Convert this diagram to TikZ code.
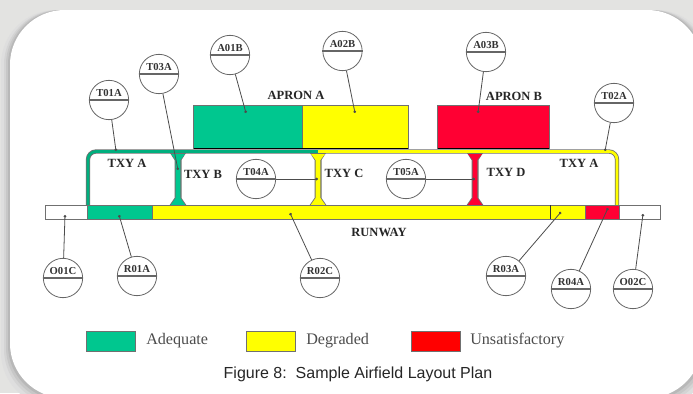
\documentclass[tikz,border=0pt]{standalone}
\usepackage{fontspec}
\setmainfont{Liberation Serif}
\newfontfamily\capfont{Liberation Sans}
\usetikzlibrary{arrows.meta}
\definecolor{adq}{HTML}{00C78F}
\definecolor{deg}{HTML}{FFFF00}
\definecolor{uns}{HTML}{FF0033}
\definecolor{unsleg}{HTML}{FF0000}
\definecolor{edge}{HTML}{707070}
\definecolor{page}{HTML}{E3E3E1}
\tikzset{
  area/.style={draw=edge,line width=.7pt},
  callout/.style={circle,draw=black!60,line width=.6pt,minimum size=29.5pt,inner sep=0pt,fill=white,font=\bfseries\fontsize{8}{9}\selectfont,text=black!80},
  divider/.style={draw=black!60,line width=.8pt},
  leader/.style={draw=black!70,line width=.6pt,{Circle[length=2pt]}-},
  lab/.style={font=\bfseries\fontsize{9.4}{10}\selectfont,text=black!85,inner sep=0pt},
  legendtext/.style={font=\fontsize{12.1}{13}\selectfont,text=black!70,anchor=west,inner sep=0pt},
  outer/.style={line width=3.2pt,rounded corners=6pt},
  core/.style={line width=2pt,rounded corners=6pt},
}
\newcommand{\ballon}[3]{%
  \node[callout] (#1) at (#2) {\smash{\raisebox{2.8pt}{#3}}};
  \path[divider] (#1.west) -- (#1.east);
}
\begin{document}
\begin{tikzpicture}[x=.75pt,y=-.75pt]
\useasboundingbox (0,0) rectangle (693,393);
\clip (0,0) rectangle (693,393);
\fill[page] (0,0) rectangle (693,393);
% panel shadow
\foreach \d/\c in {9/black!13,6/black!17,4/black!22,2/black!28}{
  \fill[\c,rounded corners=41pt] (10-\d,10) rectangle (702+\d,398+\d);
}
\fill[white,rounded corners=41pt] (10,10) rectangle (702,398);
% aprons
\path[area,fill=adq] (193.5,105) rectangle (302,148);
\path[area,fill=deg] (302,105) rectangle (408,148);
\path[area,fill=uns] (437.5,105) rectangle (549,148);
\draw[black,line width=.9pt] (193.5,148.5) -- (408,148.5) (437.5,148.5) -- (549,148.5);
% taxiway verticals
\foreach \x/\c in {178/adq,318/deg,475/uns}{
  \fill[edge] (\x-8,153) -- (\x+8,153) -- (\x+3.5,160) -- (\x+3.5,198) -- (\x+9,206) -- (\x-9,206) -- (\x-3.5,198) -- (\x-3.5,160) -- cycle;
  \fill[\c] (\x-7,154) -- (\x+7,154) -- (\x+2.4,160) -- (\x+2.4,198) -- (\x+8,206) -- (\x-8,206) -- (\x-2.4,198) -- (\x-2.4,160) -- cycle;
}
% taxiway A
\draw[edge,outer] (88,206) -- (88,151.5) -- (617,151.5) -- (617,206);
\draw[adq!88!black,core] (88,206) -- (88,151.5) -- (318,151.5);
\draw[deg,core] (318,151.5) -- (617,151.5) -- (617,206);
% runway
\path[area,fill=white] (45,205) rectangle (660,219);
\path[area,fill=adq] (87,205) rectangle (152,219);
\path[area,fill=deg] (152,205) rectangle (585,219);
\path[area,fill=uns] (585,205) rectangle (619,219);
\draw[black!80,line width=.7pt] (550,205) -- (550,219);
% labels
\node[lab] (apa) at (296,95) {APRON A};
\node[lab] (apb) at (514,96) {APRON B};
\node[lab] (txa) at (127,163) {TXY A};
\node[lab] (txb) at (203,174) {TXY B};
\node[lab] (txc) at (344,173) {TXY C};
\node[lab] (txd) at (506,172) {TXY D};
\node[lab] (txe) at (579,163) {TXY A};
\node[lab] (rwy) at (379,232) {RUNWAY};
% end points
\coordinate (pt1) at (116,151);
\coordinate (pt2) at (178,170);
\coordinate (pa1) at (246,113);
\coordinate (pa2) at (355,113);
\coordinate (pa3) at (478,113);
\coordinate (pt3) at (605,151);
\coordinate (pt4) at (318,179);
\coordinate (pt5) at (475,179);
\coordinate (po1) at (65,215);
\coordinate (pr1) at (119,215);
\coordinate (pr2) at (290,213);
\coordinate (pr3) at (561,212);
\coordinate (pr4) at (608,208);
\coordinate (po2) at (643,214);
% callouts
\ballon{t1}{109,100}{T01A}
\ballon{t3}{159,74}{T03A}
\ballon{a1b}{230,55}{A01B}
\ballon{a2b}{342.5,51}{A02B}
\ballon{a3b}{486,52}{A03B}
\ballon{t2}{614,103}{T02A}
\ballon{t4}{256,179}{T04A}
\ballon{t5}{406,179}{T05A}
\ballon{o1}{63,278}{O01C}
\ballon{r1}{137,276}{R01A}
\ballon{r2}{320,278}{R02C}
\ballon{r3}{506,276}{R03A}
\ballon{r4}{571,289}{R04A}
\ballon{o2}{633,289}{O02C}
% leaders
\foreach \p/\n in {pt1/t1,pt2/t3,pa1/a1b,pa2/a2b,pa3/a3b,pt3/t2,pt4/t4,pt5/t5,po1/o1,pr1/r1,pr2/r2,pr3/r3,pr4/r4,po2/o2}{
  \draw[leader] (\p) -- (\n);
}
% legend
\path[area,fill=adq] (86,331) rectangle (135,351.5);
\path[area,fill=deg] (246,331) rectangle (295,351.5);
\path[area,fill=unsleg] (411,331) rectangle (460,351.5);
\node[legendtext] (l1) at (146,340.5) {Adequate};
\node[legendtext] (l2) at (306,340.5) {Degraded};
\node[legendtext] (l3) at (470,340.5) {Unsatisfactory};
\node[font=\capfont\fontsize{12}{13}\selectfont,text=black!85,inner sep=0pt] (cap) at (358,374) {Figure 8:\ \ Sample Airfield Layout Plan};
\end{tikzpicture}
\end{document}
